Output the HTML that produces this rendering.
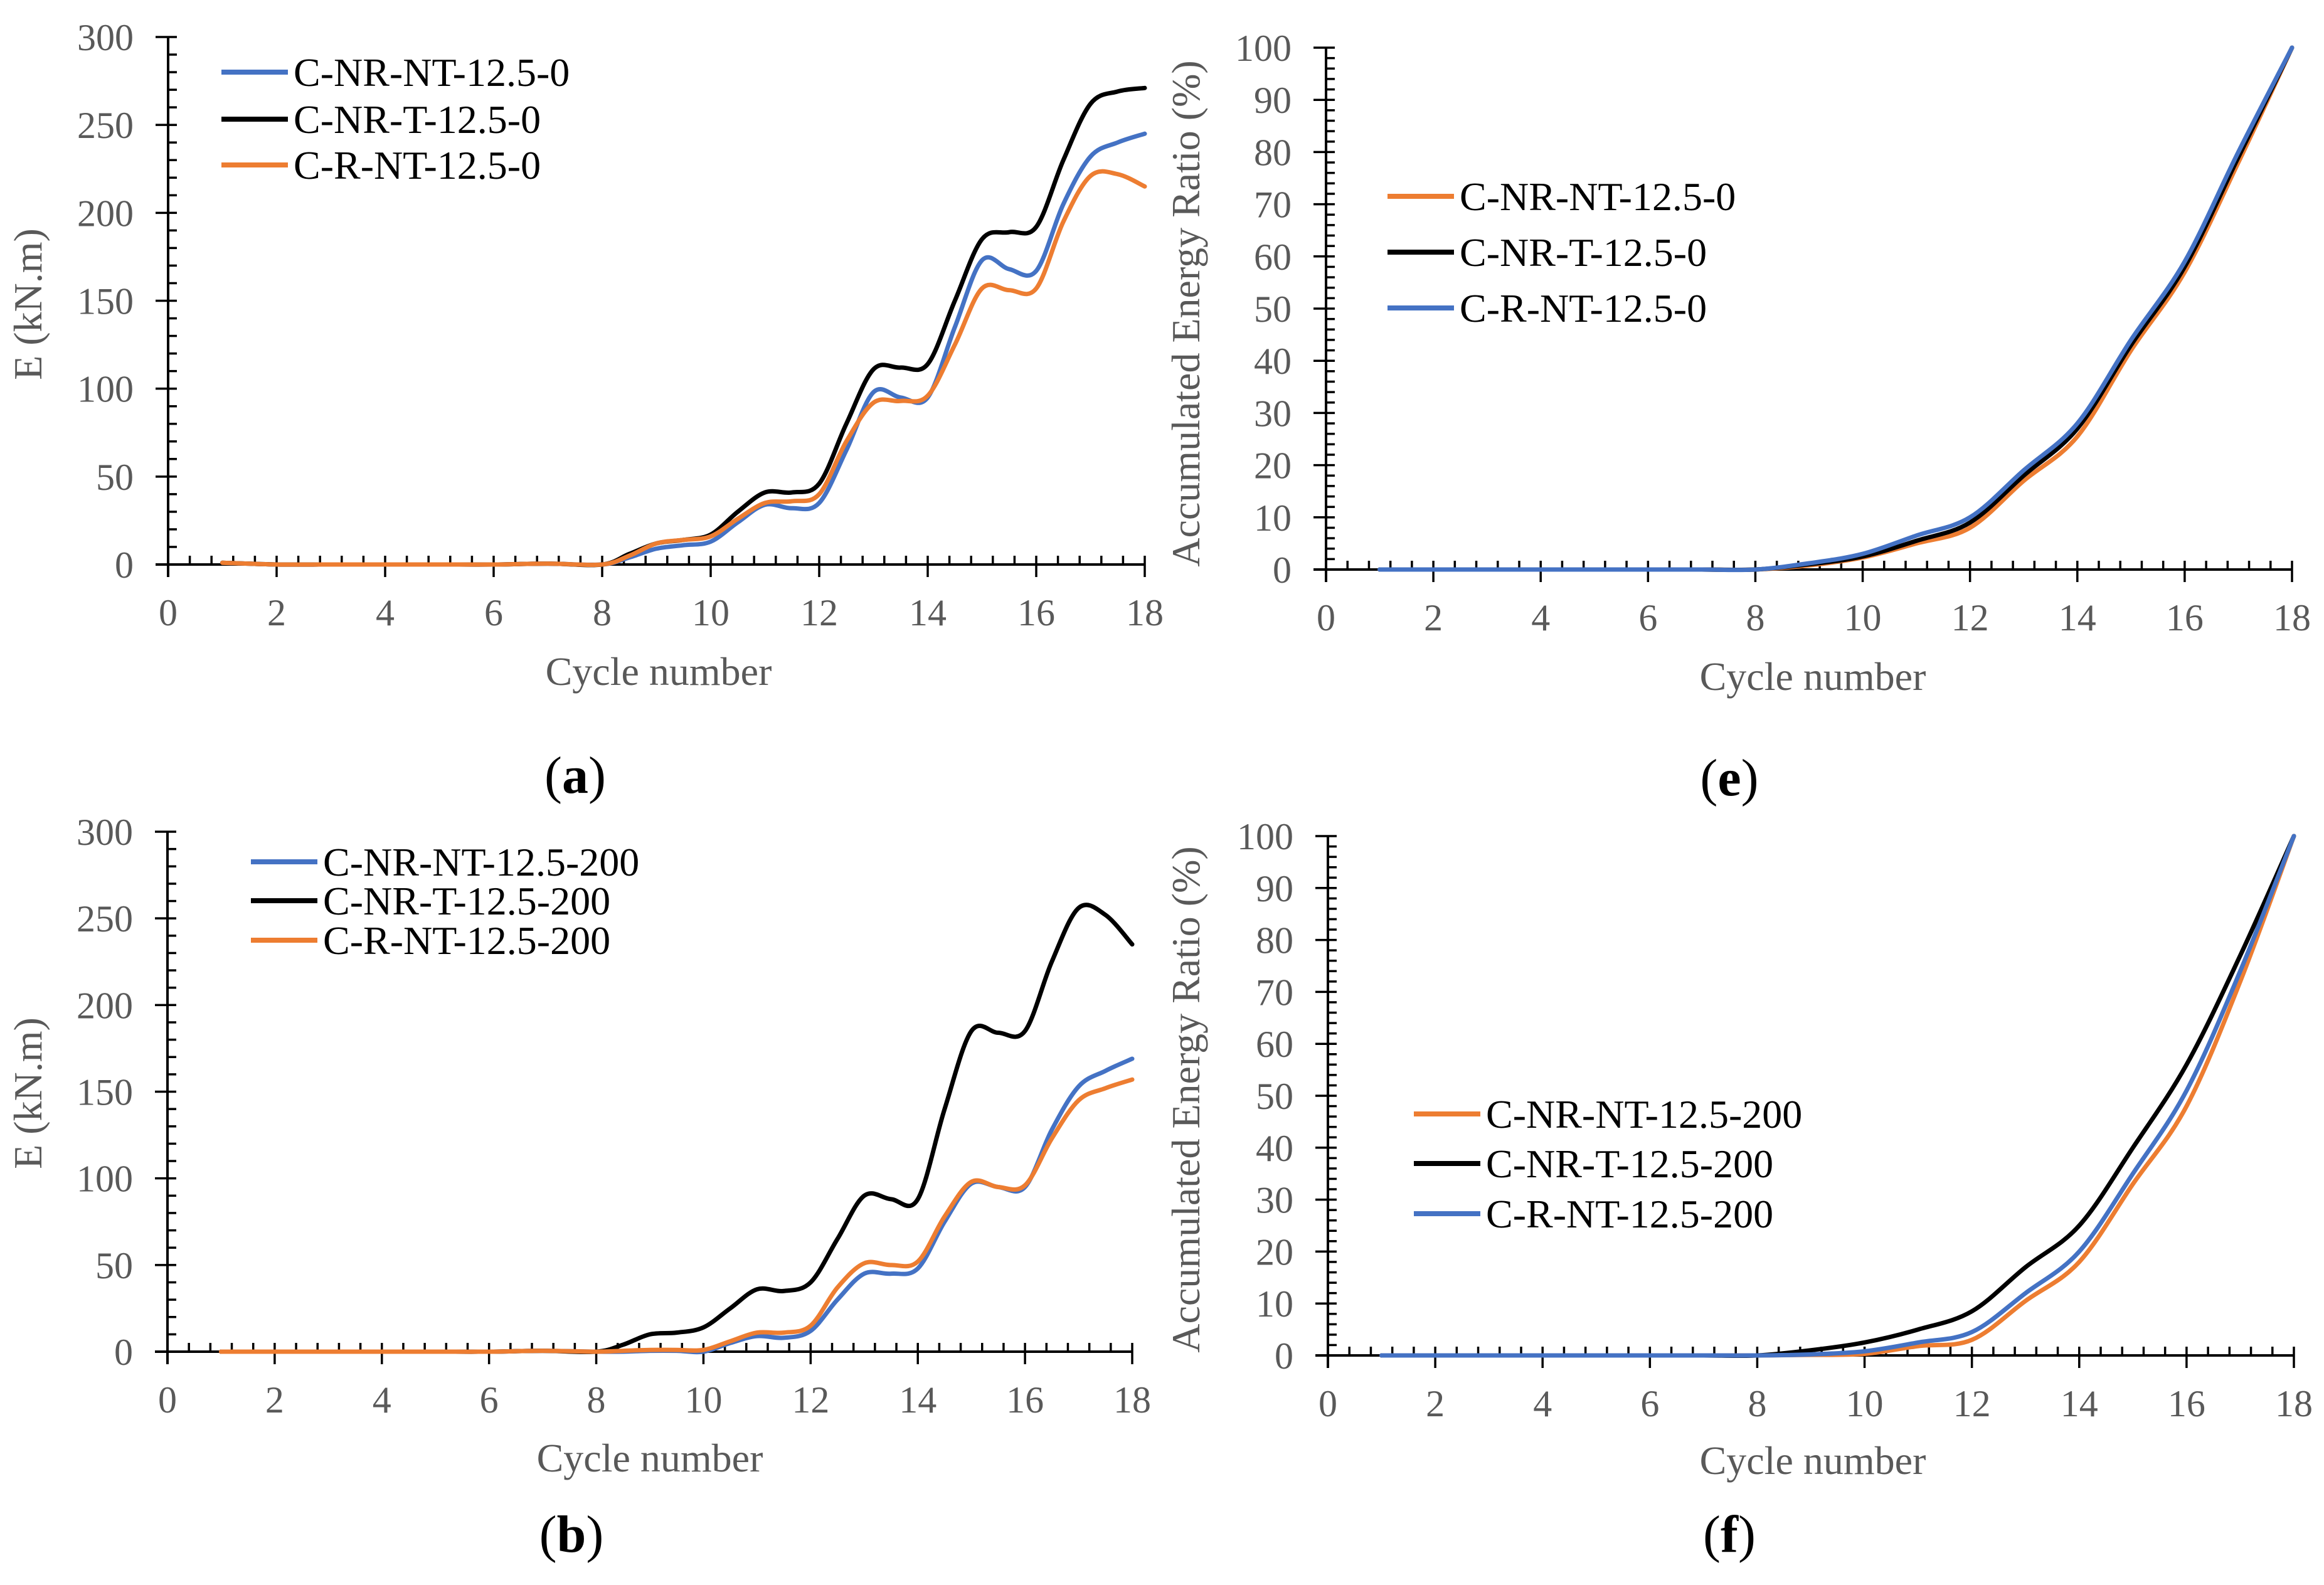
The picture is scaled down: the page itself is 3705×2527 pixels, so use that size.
<!DOCTYPE html>
<html><head><meta charset="utf-8">
<style>
html,body{margin:0;padding:0;background:#fff;}
svg{display:block;}
text{font-family:"Liberation Serif","Times New Roman",serif;}
</style></head>
<body>
<svg id="fig" width="3705" height="2527" viewBox="0 0 3705 2527" xmlns="http://www.w3.org/2000/svg"></svg>
<script>
// ---------- data ----------
// Panel (a) E (kN.m)
const aX = [1,2,3,4,5,6,7,8,8.5,9,9.5,10,10.5,11,11.5,12,12.5,13,13.5,14,14.5,15,15.5,16,16.5,17,17.5,18];
const aBlue   = [1,0,0,0,0,0,0.5,0,4,9,11,13,24,34,32,35,65,98,95,95,135,173,168,167,205,232,240,245];
const aBlack  = [1,0,0,0,0,0,0.5,0,6,12,14,17,30,41,41,46,80,111,112,114,150,185,189,192,230,262,269,271];
const aOrange = [1,0,0,0,0,0,0.5,0,5,12,14,16,26,35,36,40,70,92,93,96,125,157,156,157,195,221,222,215];
// Panel (b) E (kN.m)
const bX = [1,2,3,4,5,6,7,8,8.5,9,9.5,10,10.5,11,11.5,12,12.5,13,13.5,14,14.5,15,15.5,16,16.5,17,17.5,18];
const bBlue   = [0,0,0,0,0,0,0.5,0,0,0.5,0.5,0,5,9,8,12,30,45,45,48,75,97,95,95,128,153,162,169];
const bBlack  = [0,0,0,0,0,0,0.5,0,4,10,11,14,25,36,35,40,65,90,88,88,140,185,184,185,225,256,252,235];
const bOrange = [0,0,0,0,0,0,0.5,0,0.5,1,1,1,6,11,11,15,37,51,50,52,78,98,95,96,123,145,152,157];
// Panel (e) Accumulated energy ratio (%)
const eX = [1,2,3,4,5,6,7,8,9,10,11,12,13,14,15,16,17,18];
const eOrange = [0,0,0,0,0,0,0,0,0.8,2.3,5,8,17,25.5,42,57,78,100];
const eBlack  = [0,0,0,0,0,0,0,0,1,2.5,5.5,9,18,27,43,58,79,100];
const eBlue   = [0,0,0,0,0,0,0,0,1.2,3,6.5,10,19,28,44,59,80,100];
// Panel (f) Accumulated energy ratio (%)
const fX = [1,2,3,4,5,6,7,8,9,10,11,12,13,14,15,16,17,18];
const fOrange = [0,0,0,0,0,0,0,0,0.1,0.3,1.8,3,10.5,18,33,48,72,100];
const fBlack  = [0,0,0,0,0,0,0,0,1,2.5,5,8.5,17,25,40,56,77,100];
const fBlue   = [0,0,0,0,0,0,0,0,0.2,0.8,2.5,4.5,12,20,35,51,74,100];
const xTicks = [0,2,4,6,8,10,12,14,16,18];
const eTicksY = [0,50,100,150,200,250,300];
const pTicksY = [0,10,20,30,40,50,60,70,80,90,100];

const NS = "http://www.w3.org/2000/svg";
const svg = document.getElementById('fig');
function mk(tag, attrs, parent){ const e=document.createElementNS(NS,tag); for(const k in attrs) e.setAttribute(k,attrs[k]); (parent||svg).appendChild(e); return e; }
const BLUE="#4472C4", ORANGE="#ED7D31", BLACK="#000000", GREY="#595959";

function panel(cfg){
  const g = mk('g',{});
  
  
  const X = v => cfg.x0 + (v/18)*(cfg.x1-cfg.x0);
  const Y = v => cfg.y0 - (v/cfg.ymax)*(cfg.y0-cfg.y1);
  const ax = mk('line',{x1:cfg.x0-20,y1:cfg.y0,x2:cfg.x1,y2:cfg.y0,stroke:'#000','stroke-width':4},g);
   
  const ay = mk('line',{x1:cfg.x0,y1:cfg.y1,x2:cfg.x0,y2:cfg.y0+20,stroke:'#000','stroke-width':4},g);
   
  for(let v=0; v<=18.001; v+=0.4){
    const isMaj = Math.abs(v/2-Math.round(v/2))<1e-6;
    if(isMaj) mk('line',{x1:X(v),y1:cfg.y0-14,x2:X(v),y2:cfg.y0+20,stroke:'#000','stroke-width':3.5},g);
    else mk('line',{x1:X(v),y1:cfg.y0-14,x2:X(v),y2:cfg.y0,stroke:'#000','stroke-width':3.5},g);
  }
  xTicks.forEach(t=>{
    const tx = mk('text',{x:X(t),y:cfg.y0+97,'font-size':60,fill:GREY,'text-anchor':'middle'},g);
    tx.textContent=t;
     
  });
  for(let v=0; v<=cfg.ymax+1e-6; v+=cfg.minor){
    mk('line',{x1:cfg.x0,y1:Y(v),x2:cfg.x0+14,y2:Y(v),stroke:'#000','stroke-width':3.5},g);
  }
  cfg.yticks.forEach(t=>{
    mk('line',{x1:cfg.x0-20,y1:Y(t),x2:cfg.x0,y2:Y(t),stroke:'#000','stroke-width':3.5},g);
    const ty = mk('text',{x:cfg.x0-55,y:Y(t)+21,'font-size':60,fill:GREY,'text-anchor':'end'},g);
    ty.textContent=t;
     
  });
  const xt = mk('text',{x:cfg.xtx,y:cfg.xty,'font-size':64,fill:GREY,'text-anchor':'middle'},g);
  xt.textContent='Cycle number';
   
  const yt = mk('text',{x:0,y:0,'font-size':64,fill:GREY,'text-anchor':'middle',transform:`translate(${cfg.ytx},${cfg.yty}) rotate(-90)`},g);
  yt.textContent=cfg.ytitle;
   
  const pl = mk('text',{x:cfg.plx,y:cfg.ply,'font-size':84,fill:'#000','text-anchor':'middle'},g);
  pl.innerHTML = '(<tspan font-weight="bold">'+cfg.label+'</tspan>)';
   
  cfg.series.forEach(s=>{
    const pts = cfg.xs.map((xv,i)=>[X(xv),Y(s.vals[i])]);
    let d = `M${pts[0][0]},${pts[0][1]}`;
    for(let i=0;i<pts.length-1;i++){
      const p0=pts[Math.max(i-1,0)], p1=pts[i], p2=pts[i+1], p3=pts[Math.min(i+2,pts.length-1)];
      const t=1/3;
      const c1=[p1[0]+(p2[0]-p0[0])*t/2, p1[1]+(p2[1]-p0[1])*t/2];
      const c2=[p2[0]-(p3[0]-p1[0])*t/2, p2[1]-(p3[1]-p1[1])*t/2];
      d+=` C${c1[0]},${c1[1]} ${c2[0]},${c2[1]} ${p2[0]},${p2[1]}`;
    }
    const p = mk('path',{d:d,fill:'none',stroke:s.color,'stroke-width':7,'stroke-linecap':'round','stroke-linejoin':'round'},g);
    
    
  });
  cfg.legend.forEach((L,i)=>{
    const y = cfg.legY[i];
    const lg = mk('g',{},g);
    
    
    mk('line',{x1:cfg.legX,y1:y,x2:cfg.legX+106,y2:y,stroke:L.color,'stroke-width':8},lg);
    const lt = mk('text',{x:cfg.legX+115,y:y+22,'font-size':64,fill:'#000'},lg);
    lt.textContent=L.text;
  });
}

panel({name:'chart-a',label:'a',x0:268,x1:1825,y0:900,y1:59,ymax:300,minor:10,yticks:eTicksY,
  xtx:1050,xty:1092,ytx:66,yty:485,ytitle:'E (kN.m)',plx:917,ply:1264,xs:aX,
  series:[{key:'c-nr-nt-12.5-0',color:BLUE,vals:aBlue},{key:'c-nr-t-12.5-0',color:BLACK,vals:aBlack},{key:'c-r-nt-12.5-0',color:ORANGE,vals:aOrange}],
  legX:353,legY:[115,190,263],legend:[{color:BLUE,text:'C-NR-NT-12.5-0'},{color:BLACK,text:'C-NR-T-12.5-0'},{color:ORANGE,text:'C-R-NT-12.5-0'}]});

panel({name:'chart-e',label:'e',x0:2114,x1:3654,y0:908,y1:76,ymax:100,minor:2,yticks:pTicksY,
  xtx:2890,xty:1100,ytx:1912,yty:500,ytitle:'Accumulated Energy Ratio (%)',plx:2757,ply:1268,xs:eX,
  series:[{key:'c-nr-nt-12.5-0',color:ORANGE,vals:eOrange},{key:'c-nr-t-12.5-0',color:BLACK,vals:eBlack},{key:'c-r-nt-12.5-0',color:BLUE,vals:eBlue}],
  legX:2212,legY:[313,402,491],legend:[{color:ORANGE,text:'C-NR-NT-12.5-0'},{color:BLACK,text:'C-NR-T-12.5-0'},{color:BLUE,text:'C-R-NT-12.5-0'}]});

panel({name:'chart-b',label:'b',x0:267,x1:1805,y0:2155,y1:1326,ymax:300,minor:10,yticks:eTicksY,
  xtx:1036,xty:2346,ytx:66,yty:1743,ytitle:'E (kN.m)',plx:911,ply:2474,xs:bX,
  series:[{key:'c-nr-nt-12.5-200',color:BLUE,vals:bBlue},{key:'c-nr-t-12.5-200',color:BLACK,vals:bBlack},{key:'c-r-nt-12.5-200',color:ORANGE,vals:bOrange}],
  legX:400,legY:[1374,1436,1499],legend:[{color:BLUE,text:'C-NR-NT-12.5-200'},{color:BLACK,text:'C-NR-T-12.5-200'},{color:ORANGE,text:'C-R-NT-12.5-200'}]});

panel({name:'chart-f',label:'f',x0:2117,x1:3657,y0:2161,y1:1333,ymax:100,minor:2,yticks:pTicksY,
  xtx:2890,xty:2350,ytx:1912,yty:1753,ytitle:'Accumulated Energy Ratio (%)',plx:2757,ply:2474,xs:fX,
  series:[{key:'c-nr-nt-12.5-200',color:ORANGE,vals:fOrange},{key:'c-nr-t-12.5-200',color:BLACK,vals:fBlack},{key:'c-r-nt-12.5-200',color:BLUE,vals:fBlue}],
  legX:2254,legY:[1776,1855,1935],legend:[{color:ORANGE,text:'C-NR-NT-12.5-200'},{color:BLACK,text:'C-NR-T-12.5-200'},{color:BLUE,text:'C-R-NT-12.5-200'}]});
</script>
</body></html>
